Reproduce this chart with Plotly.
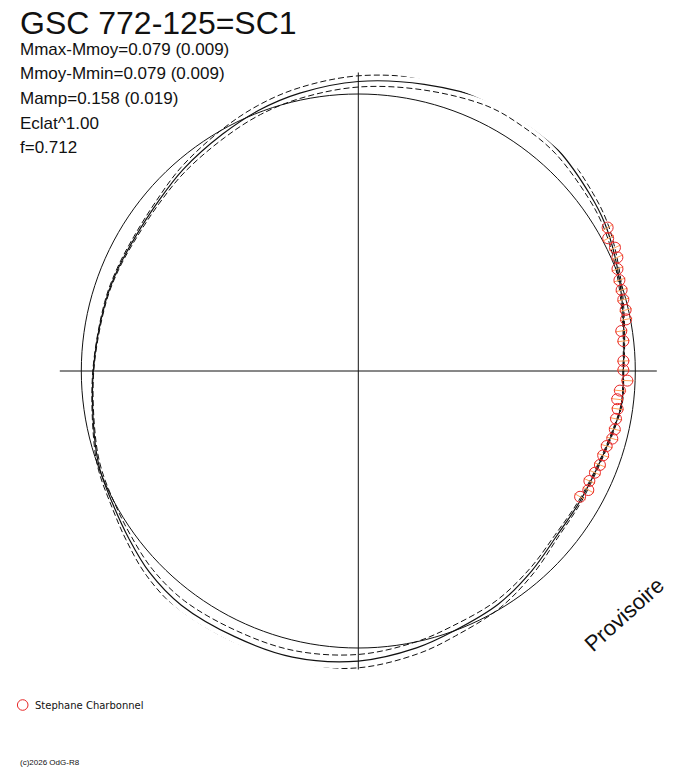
import plotly.graph_objects as go

# phase-folded fit (phase, delta mag)
fit_phase = [0.000, 0.021, 0.044, 0.067, 0.086, 0.103, 0.133, 0.156, 0.178, 0.214,
             0.250, 0.283, 0.308, 0.333, 0.364, 0.389, 0.414, 0.436, 0.458, 0.500,
             0.539, 0.558, 0.581, 0.600, 0.622, 0.647, 0.681, 0.714, 0.750, 0.783,
             0.806, 0.836, 0.864, 0.889, 0.914, 0.936, 0.965, 0.981, 1.000]
fit_dm = [0.048, 0.036, 0.013, -0.016, -0.040, -0.054, -0.079, -0.086, -0.087, -0.065,
          -0.048, -0.027, -0.008, 0.016, 0.040, 0.060, 0.068, 0.064, 0.060, 0.048,
          0.020, 0.002, -0.010, -0.027, -0.050, -0.063, -0.061, -0.063, -0.050, -0.023,
          0.000, 0.020, 0.050, 0.077, 0.081, 0.079, 0.060, 0.046, 0.048]
fit_err = [0.002, 0.003, 0.005, 0.007, 0.010, 0.012, 0.016, 0.019, 0.020, 0.021,
           0.021, 0.020, 0.018, 0.016, 0.012, 0.008, 0.006, 0.004, 0.003, 0.002,
           0.004, 0.006, 0.008, 0.012, 0.016, 0.020, 0.023, 0.025, 0.025, 0.023,
           0.020, 0.016, 0.012, 0.008, 0.006, 0.004, 0.003, 0.002, 0.002]

# observations (Stephane Charbonnel)
obs_phase = [0.0831, 0.0777, 0.0713, 0.0658, 0.0597, 0.0533, 0.0475, 0.0419, 0.0357, 0.0303,
             0.0240, 0.0179, 0.0060, 0.0006, 0.9943, 0.9881, 0.9827, 0.9769, 0.9708, 0.9644,
             0.9586, 0.9533, 0.9472, 0.9410, 0.9354, 0.9293, 0.9240, 0.9179]
obs_dm = [-0.041, -0.023, -0.030, -0.023, -0.006, 0.002, 0.006, 0.010, 0.011, 0.017,
          0.044, 0.041, 0.047, 0.048, 0.031, 0.059, 0.067, 0.060, 0.060, 0.056,
          0.057, 0.071, 0.073, 0.072, 0.079, 0.086, 0.073, 0.090]

title = "GSC 772-125=SC1"
info_lines = ["Mmax-Mmoy=0.079 (0.009)", "Mmoy-Mmin=0.079 (0.009)",
              "Mamp=0.158 (0.019)", "Eclat^1.00", "f=0.712"]
observer = "Stephane Charbonnel"

W, H = 688, 768
FONT = "Liberation Sans, Arial, sans-serif"
INK = "#111111"
RED = "rgb(232,40,40)"


def flux(dm):
    # Eclat^1.00 : radius = brightness relative to mean
    return [10 ** (-0.4 * d) for d in dm]


def deg(ph):
    return [p * 360 for p in ph]


def px_x(x):
    return x / W


def px_y(y):
    return 1 - y / H


fig = go.Figure()

# reference circle (mean brightness)
ref_t = list(range(0, 361, 2))
fig.add_trace(go.Scatterpolar(r=[1.0] * len(ref_t), theta=ref_t, mode="lines",
                              line=dict(color=INK, width=1), cliponaxis=False,
                              hoverinfo="skip"))

# error envelopes
for sign in (1, -1):
    fig.add_trace(go.Scatterpolar(
        r=flux([d + sign * e for d, e in zip(fit_dm, fit_err)]), theta=deg(fit_phase),
        mode="lines", line=dict(color=INK, width=1, dash="6px,3px", shape="spline"),
        cliponaxis=False, hoverinfo="skip"))

# fitted curve
fig.add_trace(go.Scatterpolar(r=flux(fit_dm), theta=deg(fit_phase), mode="lines",
                              line=dict(color=INK, width=1.2, shape="spline"),
                              cliponaxis=False))

# observations: radial tick + open circle
obs_t = deg(obs_phase)
fig.add_trace(go.Scatterpolar(r=flux(obs_dm), theta=obs_t, mode="markers",
                              marker=dict(symbol="line-ew-open", size=9, angle=[-t for t in obs_t],
                                          line=dict(color=RED, width=1)),
                              cliponaxis=False, hoverinfo="skip"))
fig.add_trace(go.Scatterpolar(r=flux(obs_dm), theta=obs_t, mode="markers", name=observer,
                              marker=dict(symbol="circle-open", size=11,
                                          line=dict(color=RED, width=1), color=RED),
                              cliponaxis=False))

# polar frame: centre (358,371) px, half-axis 298.5 px, ref circle 277 px
cx, cy, R = 358.3, 371.0, 298.5
fig.update_layout(
    width=W, height=H, margin=dict(l=0, r=0, t=0, b=0),
    paper_bgcolor="white", showlegend=False,
    polar=dict(
        domain=dict(x=[px_x(cx - R), px_x(cx + R)], y=[px_y(cy + R), px_y(cy - R)]),
        bgcolor="white",
        radialaxis=dict(range=[0, R / 277.0], showgrid=False, showline=False,
                        showticklabels=False, ticks=""),
        angularaxis=dict(tickmode="linear", tick0=0, dtick=90, showgrid=True,
                         gridcolor=INK, gridwidth=1, showline=False,
                         showticklabels=False, ticks=""),
    ),
)


def px_ann(text, x, y, size, **kw):
    fig.add_annotation(text=text, x=px_x(x), y=px_y(y), xref="paper", yref="paper",
                       showarrow=False, xanchor=kw.pop("xanchor", "left"),
                       yanchor="middle", font=dict(family=kw.pop("family", FONT),
                                                   size=size, color=INK), **kw)


px_ann(title, 18, 23, 32)
for i, line in enumerate(info_lines):
    px_ann(line, 18, 49.3 + i * 24.6, 17)

px_ann("Provisoire", 624, 614, 22, xanchor="center", textangle=-42)

# legend entry
fig.add_shape(type="circle", xref="paper", yref="paper",
              x0=px_x(17.4), x1=px_x(28), y0=px_y(710.3), y1=px_y(699.7),
              line=dict(color=RED, width=1))
px_ann(observer, 33, 705, 10, family="DejaVu Sans, Verdana, sans-serif")

px_ann("(c)2026 OdG-R8", 18, 762.7, 8)

# drop the default 8px body margin so the figure sits at the page corner
fig.write_html("out.html", config={"displayModeBar": False},
               post_script="document.body.style.margin='0px';")
